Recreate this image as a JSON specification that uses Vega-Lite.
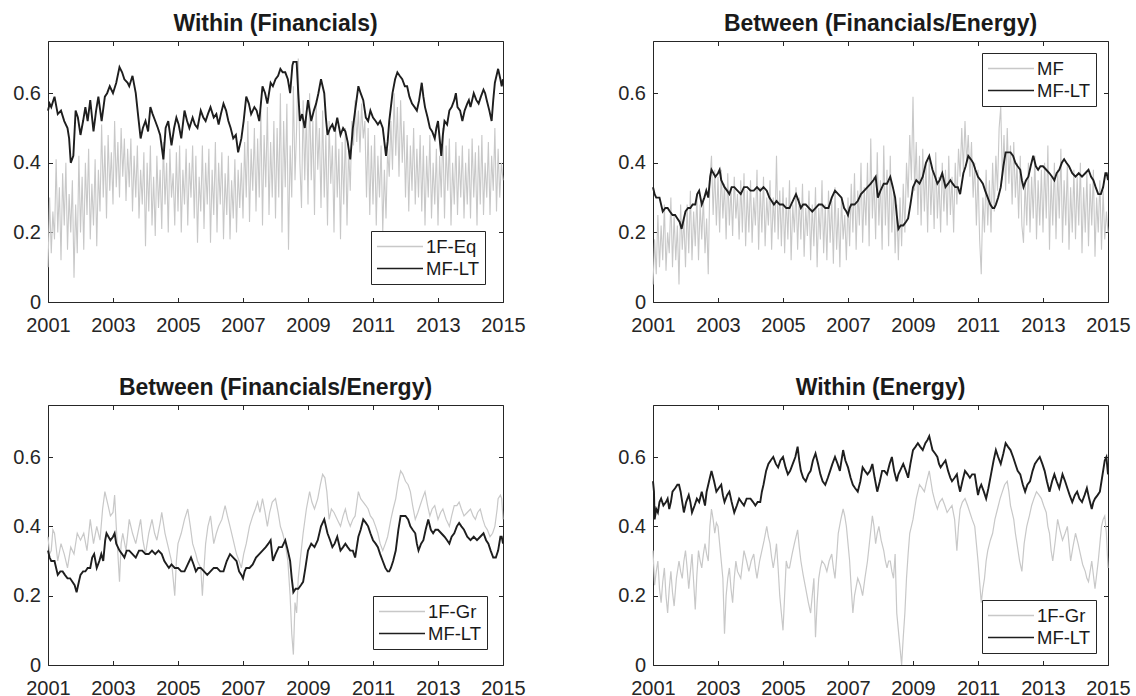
{
"$schema":"https://vega.github.io/schema/vega-lite/v6.json",
"background":"white",
"padding":{"left":12,"top":12,"right":5,"bottom":5},
"config":{
 "font":"Liberation Sans",
 "view":{"stroke":"#262626","strokeWidth":1},
 "axis":{"grid":false,"domain":false,"tickColor":"#262626","tickSize":-4.5,"labelColor":"#262626","labelFontSize":20,"labelFont":"Liberation Sans","labelFlush":false,"labelOverlap":false},
 "axisX":{"labelPadding":18},
 "axisY":{"labelPadding":12},
 "title":{"fontSize":23,"fontWeight":"bold","font":"Liberation Sans","color":"#1a1a1a","anchor":"middle","frame":"group","baseline":"alphabetic","offset":5},
 "legend":{"symbolType":"stroke","symbolSize":2116,"symbolStrokeWidth":1.5,"clipHeight":21,"rowPadding":1,"labelOffset":2,"labelFontSize":18.5,"labelFont":"Liberation Sans","labelColor":"#1a1a1a","padding":5,"strokeColor":"#262626","fillColor":"white","cornerRadius":0,"labelLimit":200}
},
"datasets":{
"p1g":[{"t":2001.0,"v":0.10},{"t":2001.05,"v":0.30},{"t":2001.1,"v":0.14},{"t":2001.15,"v":0.26},{"t":2001.2,"v":0.18},{"t":2001.25,"v":0.41},{"t":2001.3,"v":0.20},{"t":2001.35,"v":0.33},{"t":2001.4,"v":0.12},{"t":2001.45,"v":0.37},{"t":2001.5,"v":0.22},{"t":2001.55,"v":0.40},{"t":2001.6,"v":0.15},{"t":2001.65,"v":0.31},{"t":2001.7,"v":0.20},{"t":2001.75,"v":0.35},{"t":2001.8,"v":0.07},{"t":2001.85,"v":0.28},{"t":2001.9,"v":0.14},{"t":2001.95,"v":0.42},{"t":2002.0,"v":0.20},{"t":2002.05,"v":0.36},{"t":2002.1,"v":0.15},{"t":2002.15,"v":0.40},{"t":2002.2,"v":0.25},{"t":2002.25,"v":0.44},{"t":2002.3,"v":0.18},{"t":2002.35,"v":0.34},{"t":2002.4,"v":0.22},{"t":2002.45,"v":0.41},{"t":2002.5,"v":0.16},{"t":2002.55,"v":0.38},{"t":2002.6,"v":0.26},{"t":2002.65,"v":0.51},{"t":2002.7,"v":0.30},{"t":2002.75,"v":0.45},{"t":2002.8,"v":0.24},{"t":2002.85,"v":0.48},{"t":2002.9,"v":0.32},{"t":2002.95,"v":0.43},{"t":2003.0,"v":0.28},{"t":2003.05,"v":0.52},{"t":2003.1,"v":0.33},{"t":2003.15,"v":0.46},{"t":2003.2,"v":0.30},{"t":2003.25,"v":0.50},{"t":2003.3,"v":0.36},{"t":2003.35,"v":0.47},{"t":2003.4,"v":0.29},{"t":2003.45,"v":0.44},{"t":2003.5,"v":0.33},{"t":2003.55,"v":0.47},{"t":2003.6,"v":0.26},{"t":2003.65,"v":0.42},{"t":2003.7,"v":0.30},{"t":2003.75,"v":0.45},{"t":2003.8,"v":0.24},{"t":2003.85,"v":0.38},{"t":2003.9,"v":0.28},{"t":2003.95,"v":0.43},{"t":2004.0,"v":0.16},{"t":2004.05,"v":0.40},{"t":2004.1,"v":0.26},{"t":2004.15,"v":0.45},{"t":2004.2,"v":0.22},{"t":2004.25,"v":0.36},{"t":2004.3,"v":0.19},{"t":2004.35,"v":0.42},{"t":2004.4,"v":0.27},{"t":2004.45,"v":0.38},{"t":2004.5,"v":0.21},{"t":2004.55,"v":0.46},{"t":2004.6,"v":0.28},{"t":2004.65,"v":0.40},{"t":2004.7,"v":0.20},{"t":2004.75,"v":0.44},{"t":2004.8,"v":0.30},{"t":2004.85,"v":0.37},{"t":2004.9,"v":0.22},{"t":2004.95,"v":0.43},{"t":2005.0,"v":0.26},{"t":2005.05,"v":0.45},{"t":2005.1,"v":0.20},{"t":2005.15,"v":0.38},{"t":2005.2,"v":0.28},{"t":2005.25,"v":0.44},{"t":2005.3,"v":0.22},{"t":2005.35,"v":0.40},{"t":2005.4,"v":0.30},{"t":2005.45,"v":0.45},{"t":2005.5,"v":0.24},{"t":2005.55,"v":0.42},{"t":2005.6,"v":0.17},{"t":2005.65,"v":0.36},{"t":2005.7,"v":0.26},{"t":2005.75,"v":0.45},{"t":2005.8,"v":0.21},{"t":2005.85,"v":0.40},{"t":2005.9,"v":0.28},{"t":2005.95,"v":0.44},{"t":2006.0,"v":0.17},{"t":2006.05,"v":0.38},{"t":2006.1,"v":0.25},{"t":2006.15,"v":0.46},{"t":2006.2,"v":0.20},{"t":2006.25,"v":0.40},{"t":2006.3,"v":0.28},{"t":2006.35,"v":0.43},{"t":2006.4,"v":0.18},{"t":2006.45,"v":0.37},{"t":2006.5,"v":0.25},{"t":2006.55,"v":0.42},{"t":2006.6,"v":0.18},{"t":2006.65,"v":0.35},{"t":2006.7,"v":0.24},{"t":2006.75,"v":0.41},{"t":2006.8,"v":0.20},{"t":2006.85,"v":0.38},{"t":2006.9,"v":0.27},{"t":2006.95,"v":0.40},{"t":2007.0,"v":0.24},{"t":2007.05,"v":0.46},{"t":2007.1,"v":0.30},{"t":2007.15,"v":0.52},{"t":2007.2,"v":0.23},{"t":2007.25,"v":0.44},{"t":2007.3,"v":0.32},{"t":2007.35,"v":0.50},{"t":2007.4,"v":0.26},{"t":2007.45,"v":0.47},{"t":2007.5,"v":0.30},{"t":2007.55,"v":0.55},{"t":2007.6,"v":0.22},{"t":2007.65,"v":0.48},{"t":2007.7,"v":0.33},{"t":2007.75,"v":0.56},{"t":2007.8,"v":0.25},{"t":2007.85,"v":0.46},{"t":2007.9,"v":0.30},{"t":2007.95,"v":0.52},{"t":2008.0,"v":0.24},{"t":2008.05,"v":0.50},{"t":2008.1,"v":0.30},{"t":2008.15,"v":0.60},{"t":2008.2,"v":0.20},{"t":2008.25,"v":0.52},{"t":2008.3,"v":0.33},{"t":2008.35,"v":0.57},{"t":2008.4,"v":0.15},{"t":2008.45,"v":0.45},{"t":2008.5,"v":0.30},{"t":2008.55,"v":0.62},{"t":2008.6,"v":0.35},{"t":2008.65,"v":0.50},{"t":2008.7,"v":0.70},{"t":2008.75,"v":0.40},{"t":2008.8,"v":0.27},{"t":2008.85,"v":0.58},{"t":2008.9,"v":0.35},{"t":2008.95,"v":0.55},{"t":2009.0,"v":0.28},{"t":2009.05,"v":0.60},{"t":2009.1,"v":0.35},{"t":2009.15,"v":0.52},{"t":2009.2,"v":0.25},{"t":2009.25,"v":0.58},{"t":2009.3,"v":0.38},{"t":2009.35,"v":0.50},{"t":2009.4,"v":0.27},{"t":2009.45,"v":0.55},{"t":2009.5,"v":0.30},{"t":2009.55,"v":0.48},{"t":2009.6,"v":0.22},{"t":2009.65,"v":0.52},{"t":2009.7,"v":0.34},{"t":2009.75,"v":0.45},{"t":2009.8,"v":0.20},{"t":2009.85,"v":0.50},{"t":2009.9,"v":0.30},{"t":2009.95,"v":0.44},{"t":2010.0,"v":0.18},{"t":2010.05,"v":0.46},{"t":2010.1,"v":0.28},{"t":2010.15,"v":0.50},{"t":2010.2,"v":0.22},{"t":2010.25,"v":0.44},{"t":2010.3,"v":0.32},{"t":2010.35,"v":0.52},{"t":2010.4,"v":0.45},{"t":2010.45,"v":0.58},{"t":2010.5,"v":0.46},{"t":2010.55,"v":0.55},{"t":2010.6,"v":0.43},{"t":2010.65,"v":0.57},{"t":2010.7,"v":0.47},{"t":2010.75,"v":0.52},{"t":2010.8,"v":0.30},{"t":2010.85,"v":0.50},{"t":2010.9,"v":0.25},{"t":2010.95,"v":0.45},{"t":2011.0,"v":0.28},{"t":2011.05,"v":0.48},{"t":2011.1,"v":0.22},{"t":2011.15,"v":0.42},{"t":2011.2,"v":0.30},{"t":2011.25,"v":0.45},{"t":2011.3,"v":0.20},{"t":2011.35,"v":0.38},{"t":2011.4,"v":0.24},{"t":2011.45,"v":0.44},{"t":2011.5,"v":0.36},{"t":2011.55,"v":0.52},{"t":2011.6,"v":0.38},{"t":2011.65,"v":0.60},{"t":2011.7,"v":0.42},{"t":2011.75,"v":0.56},{"t":2011.8,"v":0.36},{"t":2011.85,"v":0.58},{"t":2011.9,"v":0.40},{"t":2011.95,"v":0.52},{"t":2012.0,"v":0.30},{"t":2012.05,"v":0.48},{"t":2012.1,"v":0.26},{"t":2012.15,"v":0.45},{"t":2012.2,"v":0.32},{"t":2012.25,"v":0.50},{"t":2012.3,"v":0.28},{"t":2012.35,"v":0.44},{"t":2012.4,"v":0.30},{"t":2012.45,"v":0.48},{"t":2012.5,"v":0.26},{"t":2012.55,"v":0.45},{"t":2012.6,"v":0.22},{"t":2012.65,"v":0.42},{"t":2012.7,"v":0.30},{"t":2012.75,"v":0.48},{"t":2012.8,"v":0.24},{"t":2012.85,"v":0.40},{"t":2012.9,"v":0.28},{"t":2012.95,"v":0.44},{"t":2013.0,"v":0.22},{"t":2013.05,"v":0.42},{"t":2013.1,"v":0.30},{"t":2013.15,"v":0.50},{"t":2013.2,"v":0.24},{"t":2013.25,"v":0.45},{"t":2013.3,"v":0.32},{"t":2013.35,"v":0.47},{"t":2013.4,"v":0.22},{"t":2013.45,"v":0.40},{"t":2013.5,"v":0.28},{"t":2013.55,"v":0.46},{"t":2013.6,"v":0.25},{"t":2013.65,"v":0.42},{"t":2013.7,"v":0.30},{"t":2013.75,"v":0.45},{"t":2013.8,"v":0.24},{"t":2013.85,"v":0.40},{"t":2013.9,"v":0.28},{"t":2013.95,"v":0.44},{"t":2014.0,"v":0.24},{"t":2014.05,"v":0.47},{"t":2014.1,"v":0.30},{"t":2014.15,"v":0.43},{"t":2014.2,"v":0.22},{"t":2014.25,"v":0.45},{"t":2014.3,"v":0.28},{"t":2014.35,"v":0.48},{"t":2014.4,"v":0.25},{"t":2014.45,"v":0.40},{"t":2014.5,"v":0.30},{"t":2014.55,"v":0.46},{"t":2014.6,"v":0.25},{"t":2014.65,"v":0.42},{"t":2014.7,"v":0.32},{"t":2014.75,"v":0.50},{"t":2014.8,"v":0.26},{"t":2014.85,"v":0.44},{"t":2014.9,"v":0.30},{"t":2014.95,"v":0.40},{"t":2015.0,"v":0.35}],
"p1k":[{"t":2001.0,"v":0.55},{"t":2001.05,"v":0.57},{"t":2001.1,"v":0.56},{"t":2001.2,"v":0.59},{"t":2001.3,"v":0.54},{"t":2001.4,"v":0.55},{"t":2001.5,"v":0.52},{"t":2001.6,"v":0.50},{"t":2001.65,"v":0.47},{"t":2001.7,"v":0.40},{"t":2001.78,"v":0.42},{"t":2001.85,"v":0.55},{"t":2001.92,"v":0.53},{"t":2002.0,"v":0.48},{"t":2002.08,"v":0.52},{"t":2002.15,"v":0.56},{"t":2002.22,"v":0.52},{"t":2002.3,"v":0.58},{"t":2002.4,"v":0.49},{"t":2002.48,"v":0.55},{"t":2002.55,"v":0.59},{"t":2002.65,"v":0.52},{"t":2002.75,"v":0.59},{"t":2002.82,"v":0.60},{"t":2002.9,"v":0.62},{"t":2003.0,"v":0.60},{"t":2003.1,"v":0.63},{"t":2003.2,"v":0.675},{"t":2003.28,"v":0.66},{"t":2003.35,"v":0.64},{"t":2003.45,"v":0.63},{"t":2003.5,"v":0.62},{"t":2003.6,"v":0.65},{"t":2003.7,"v":0.60},{"t":2003.78,"v":0.53},{"t":2003.85,"v":0.47},{"t":2003.92,"v":0.50},{"t":2004.0,"v":0.52},{"t":2004.08,"v":0.49},{"t":2004.15,"v":0.56},{"t":2004.22,"v":0.54},{"t":2004.3,"v":0.52},{"t":2004.38,"v":0.50},{"t":2004.45,"v":0.48},{"t":2004.55,"v":0.41},{"t":2004.62,"v":0.50},{"t":2004.7,"v":0.52},{"t":2004.8,"v":0.45},{"t":2004.88,"v":0.50},{"t":2004.95,"v":0.53},{"t":2005.02,"v":0.51},{"t":2005.1,"v":0.47},{"t":2005.2,"v":0.55},{"t":2005.28,"v":0.52},{"t":2005.35,"v":0.50},{"t":2005.45,"v":0.53},{"t":2005.52,"v":0.51},{"t":2005.6,"v":0.50},{"t":2005.7,"v":0.55},{"t":2005.78,"v":0.53},{"t":2005.85,"v":0.52},{"t":2005.92,"v":0.54},{"t":2006.0,"v":0.56},{"t":2006.1,"v":0.53},{"t":2006.18,"v":0.54},{"t":2006.25,"v":0.51},{"t":2006.32,"v":0.54},{"t":2006.4,"v":0.57},{"t":2006.48,"v":0.55},{"t":2006.55,"v":0.52},{"t":2006.62,"v":0.50},{"t":2006.7,"v":0.47},{"t":2006.78,"v":0.48},{"t":2006.85,"v":0.43},{"t":2006.95,"v":0.47},{"t":2007.02,"v":0.52},{"t":2007.1,"v":0.59},{"t":2007.18,"v":0.57},{"t":2007.25,"v":0.54},{"t":2007.35,"v":0.56},{"t":2007.42,"v":0.55},{"t":2007.5,"v":0.52},{"t":2007.6,"v":0.62},{"t":2007.68,"v":0.60},{"t":2007.75,"v":0.57},{"t":2007.85,"v":0.63},{"t":2007.92,"v":0.62},{"t":2008.0,"v":0.64},{"t":2008.08,"v":0.65},{"t":2008.15,"v":0.67},{"t":2008.22,"v":0.66},{"t":2008.3,"v":0.66},{"t":2008.38,"v":0.64},{"t":2008.45,"v":0.60},{"t":2008.52,"v":0.68},{"t":2008.55,"v":0.69},{"t":2008.65,"v":0.69},{"t":2008.7,"v":0.60},{"t":2008.75,"v":0.52},{"t":2008.82,"v":0.54},{"t":2008.9,"v":0.50},{"t":2009.0,"v":0.58},{"t":2009.05,"v":0.55},{"t":2009.1,"v":0.52},{"t":2009.18,"v":0.55},{"t":2009.25,"v":0.57},{"t":2009.32,"v":0.60},{"t":2009.4,"v":0.64},{"t":2009.45,"v":0.62},{"t":2009.5,"v":0.60},{"t":2009.55,"v":0.53},{"t":2009.6,"v":0.48},{"t":2009.68,"v":0.50},{"t":2009.75,"v":0.51},{"t":2009.82,"v":0.49},{"t":2009.9,"v":0.53},{"t":2010.0,"v":0.48},{"t":2010.08,"v":0.50},{"t":2010.15,"v":0.49},{"t":2010.22,"v":0.46},{"t":2010.3,"v":0.41},{"t":2010.38,"v":0.50},{"t":2010.45,"v":0.55},{"t":2010.55,"v":0.62},{"t":2010.62,"v":0.60},{"t":2010.7,"v":0.58},{"t":2010.78,"v":0.53},{"t":2010.85,"v":0.52},{"t":2010.92,"v":0.55},{"t":2011.0,"v":0.53},{"t":2011.08,"v":0.52},{"t":2011.15,"v":0.51},{"t":2011.22,"v":0.52},{"t":2011.3,"v":0.50},{"t":2011.35,"v":0.46},{"t":2011.4,"v":0.42},{"t":2011.45,"v":0.46},{"t":2011.5,"v":0.52},{"t":2011.55,"v":0.56},{"t":2011.6,"v":0.60},{"t":2011.68,"v":0.64},{"t":2011.75,"v":0.66},{"t":2011.82,"v":0.65},{"t":2011.9,"v":0.64},{"t":2011.98,"v":0.62},{"t":2012.05,"v":0.62},{"t":2012.12,"v":0.59},{"t":2012.2,"v":0.57},{"t":2012.28,"v":0.56},{"t":2012.35,"v":0.55},{"t":2012.42,"v":0.58},{"t":2012.5,"v":0.63},{"t":2012.55,"v":0.59},{"t":2012.6,"v":0.56},{"t":2012.68,"v":0.53},{"t":2012.75,"v":0.50},{"t":2012.82,"v":0.49},{"t":2012.9,"v":0.47},{"t":2012.95,"v":0.50},{"t":2013.0,"v":0.52},{"t":2013.05,"v":0.47},{"t":2013.1,"v":0.42},{"t":2013.15,"v":0.48},{"t":2013.2,"v":0.52},{"t":2013.28,"v":0.51},{"t":2013.35,"v":0.55},{"t":2013.42,"v":0.56},{"t":2013.5,"v":0.58},{"t":2013.55,"v":0.60},{"t":2013.6,"v":0.56},{"t":2013.68,"v":0.55},{"t":2013.75,"v":0.52},{"t":2013.82,"v":0.55},{"t":2013.9,"v":0.57},{"t":2013.95,"v":0.58},{"t":2014.0,"v":0.56},{"t":2014.05,"v":0.58},{"t":2014.1,"v":0.60},{"t":2014.18,"v":0.58},{"t":2014.25,"v":0.57},{"t":2014.32,"v":0.59},{"t":2014.4,"v":0.61},{"t":2014.45,"v":0.60},{"t":2014.5,"v":0.58},{"t":2014.58,"v":0.55},{"t":2014.65,"v":0.52},{"t":2014.7,"v":0.58},{"t":2014.75,"v":0.63},{"t":2014.8,"v":0.65},{"t":2014.85,"v":0.67},{"t":2014.92,"v":0.64},{"t":2014.96,"v":0.62},{"t":2015.0,"v":0.64}],
"p2g":[{"t":2001.0,"v":0.05},{"t":2001.05,"v":0.18},{"t":2001.1,"v":0.08},{"t":2001.15,"v":0.25},{"t":2001.2,"v":0.10},{"t":2001.25,"v":0.22},{"t":2001.3,"v":0.12},{"t":2001.35,"v":0.28},{"t":2001.4,"v":0.09},{"t":2001.45,"v":0.20},{"t":2001.5,"v":0.14},{"t":2001.55,"v":0.30},{"t":2001.6,"v":0.10},{"t":2001.65,"v":0.25},{"t":2001.7,"v":0.12},{"t":2001.75,"v":0.22},{"t":2001.8,"v":0.05},{"t":2001.85,"v":0.28},{"t":2001.9,"v":0.15},{"t":2001.95,"v":0.24},{"t":2002.0,"v":0.10},{"t":2002.05,"v":0.28},{"t":2002.1,"v":0.14},{"t":2002.15,"v":0.32},{"t":2002.2,"v":0.12},{"t":2002.25,"v":0.26},{"t":2002.3,"v":0.16},{"t":2002.35,"v":0.31},{"t":2002.4,"v":0.12},{"t":2002.45,"v":0.28},{"t":2002.5,"v":0.18},{"t":2002.55,"v":0.30},{"t":2002.6,"v":0.14},{"t":2002.65,"v":0.24},{"t":2002.7,"v":0.08},{"t":2002.75,"v":0.35},{"t":2002.8,"v":0.42},{"t":2002.85,"v":0.25},{"t":2002.9,"v":0.38},{"t":2002.95,"v":0.22},{"t":2003.0,"v":0.36},{"t":2003.05,"v":0.20},{"t":2003.1,"v":0.38},{"t":2003.15,"v":0.24},{"t":2003.2,"v":0.34},{"t":2003.25,"v":0.18},{"t":2003.3,"v":0.37},{"t":2003.35,"v":0.22},{"t":2003.4,"v":0.33},{"t":2003.45,"v":0.19},{"t":2003.5,"v":0.36},{"t":2003.55,"v":0.24},{"t":2003.6,"v":0.31},{"t":2003.65,"v":0.18},{"t":2003.7,"v":0.35},{"t":2003.75,"v":0.20},{"t":2003.8,"v":0.37},{"t":2003.85,"v":0.16},{"t":2003.9,"v":0.32},{"t":2003.95,"v":0.20},{"t":2004.0,"v":0.35},{"t":2004.05,"v":0.17},{"t":2004.1,"v":0.30},{"t":2004.15,"v":0.22},{"t":2004.2,"v":0.38},{"t":2004.25,"v":0.15},{"t":2004.3,"v":0.33},{"t":2004.35,"v":0.20},{"t":2004.4,"v":0.36},{"t":2004.45,"v":0.16},{"t":2004.5,"v":0.30},{"t":2004.55,"v":0.22},{"t":2004.6,"v":0.35},{"t":2004.65,"v":0.15},{"t":2004.7,"v":0.30},{"t":2004.75,"v":0.20},{"t":2004.8,"v":0.42},{"t":2004.85,"v":0.18},{"t":2004.9,"v":0.32},{"t":2004.95,"v":0.16},{"t":2005.0,"v":0.33},{"t":2005.05,"v":0.14},{"t":2005.1,"v":0.30},{"t":2005.15,"v":0.18},{"t":2005.2,"v":0.35},{"t":2005.25,"v":0.12},{"t":2005.3,"v":0.28},{"t":2005.35,"v":0.20},{"t":2005.4,"v":0.33},{"t":2005.45,"v":0.15},{"t":2005.5,"v":0.30},{"t":2005.55,"v":0.18},{"t":2005.6,"v":0.34},{"t":2005.65,"v":0.13},{"t":2005.7,"v":0.27},{"t":2005.75,"v":0.19},{"t":2005.8,"v":0.32},{"t":2005.85,"v":0.12},{"t":2005.9,"v":0.28},{"t":2005.95,"v":0.16},{"t":2006.0,"v":0.33},{"t":2006.05,"v":0.10},{"t":2006.1,"v":0.27},{"t":2006.15,"v":0.18},{"t":2006.2,"v":0.35},{"t":2006.25,"v":0.14},{"t":2006.3,"v":0.28},{"t":2006.35,"v":0.12},{"t":2006.4,"v":0.32},{"t":2006.45,"v":0.17},{"t":2006.5,"v":0.29},{"t":2006.55,"v":0.11},{"t":2006.6,"v":0.33},{"t":2006.65,"v":0.15},{"t":2006.7,"v":0.27},{"t":2006.75,"v":0.10},{"t":2006.8,"v":0.30},{"t":2006.85,"v":0.18},{"t":2006.9,"v":0.25},{"t":2006.95,"v":0.12},{"t":2007.0,"v":0.30},{"t":2007.05,"v":0.16},{"t":2007.1,"v":0.34},{"t":2007.15,"v":0.20},{"t":2007.2,"v":0.37},{"t":2007.25,"v":0.15},{"t":2007.3,"v":0.32},{"t":2007.35,"v":0.22},{"t":2007.4,"v":0.40},{"t":2007.45,"v":0.17},{"t":2007.5,"v":0.33},{"t":2007.55,"v":0.22},{"t":2007.6,"v":0.40},{"t":2007.65,"v":0.16},{"t":2007.7,"v":0.47},{"t":2007.75,"v":0.24},{"t":2007.8,"v":0.36},{"t":2007.85,"v":0.18},{"t":2007.9,"v":0.43},{"t":2007.95,"v":0.22},{"t":2008.0,"v":0.35},{"t":2008.05,"v":0.15},{"t":2008.1,"v":0.45},{"t":2008.15,"v":0.22},{"t":2008.2,"v":0.38},{"t":2008.25,"v":0.16},{"t":2008.3,"v":0.42},{"t":2008.35,"v":0.20},{"t":2008.4,"v":0.32},{"t":2008.45,"v":0.14},{"t":2008.5,"v":0.28},{"t":2008.55,"v":0.12},{"t":2008.6,"v":0.30},{"t":2008.65,"v":0.16},{"t":2008.7,"v":0.34},{"t":2008.75,"v":0.20},{"t":2008.8,"v":0.40},{"t":2008.85,"v":0.30},{"t":2008.9,"v":0.48},{"t":2008.95,"v":0.35},{"t":2009.0,"v":0.59},{"t":2009.05,"v":0.32},{"t":2009.1,"v":0.46},{"t":2009.15,"v":0.25},{"t":2009.2,"v":0.42},{"t":2009.25,"v":0.22},{"t":2009.3,"v":0.44},{"t":2009.35,"v":0.26},{"t":2009.4,"v":0.40},{"t":2009.45,"v":0.20},{"t":2009.5,"v":0.42},{"t":2009.55,"v":0.25},{"t":2009.6,"v":0.38},{"t":2009.65,"v":0.21},{"t":2009.7,"v":0.43},{"t":2009.75,"v":0.24},{"t":2009.8,"v":0.36},{"t":2009.85,"v":0.20},{"t":2009.9,"v":0.40},{"t":2009.95,"v":0.26},{"t":2010.0,"v":0.38},{"t":2010.05,"v":0.22},{"t":2010.1,"v":0.42},{"t":2010.15,"v":0.25},{"t":2010.2,"v":0.36},{"t":2010.25,"v":0.20},{"t":2010.3,"v":0.40},{"t":2010.35,"v":0.28},{"t":2010.4,"v":0.44},{"t":2010.45,"v":0.36},{"t":2010.5,"v":0.50},{"t":2010.55,"v":0.38},{"t":2010.6,"v":0.52},{"t":2010.65,"v":0.40},{"t":2010.7,"v":0.48},{"t":2010.75,"v":0.36},{"t":2010.8,"v":0.46},{"t":2010.85,"v":0.30},{"t":2010.9,"v":0.40},{"t":2010.95,"v":0.22},{"t":2011.0,"v":0.38},{"t":2011.05,"v":0.18},{"t":2011.1,"v":0.08},{"t":2011.15,"v":0.30},{"t":2011.2,"v":0.20},{"t":2011.25,"v":0.38},{"t":2011.3,"v":0.22},{"t":2011.35,"v":0.35},{"t":2011.4,"v":0.20},{"t":2011.45,"v":0.40},{"t":2011.5,"v":0.26},{"t":2011.55,"v":0.42},{"t":2011.6,"v":0.32},{"t":2011.65,"v":0.50},{"t":2011.7,"v":0.56},{"t":2011.75,"v":0.35},{"t":2011.8,"v":0.48},{"t":2011.85,"v":0.32},{"t":2011.9,"v":0.50},{"t":2011.95,"v":0.34},{"t":2012.0,"v":0.45},{"t":2012.05,"v":0.28},{"t":2012.1,"v":0.46},{"t":2012.15,"v":0.30},{"t":2012.2,"v":0.40},{"t":2012.25,"v":0.24},{"t":2012.3,"v":0.42},{"t":2012.35,"v":0.22},{"t":2012.4,"v":0.17},{"t":2012.45,"v":0.35},{"t":2012.5,"v":0.22},{"t":2012.55,"v":0.40},{"t":2012.6,"v":0.20},{"t":2012.65,"v":0.36},{"t":2012.7,"v":0.24},{"t":2012.75,"v":0.42},{"t":2012.8,"v":0.18},{"t":2012.85,"v":0.35},{"t":2012.9,"v":0.22},{"t":2012.95,"v":0.38},{"t":2013.0,"v":0.20},{"t":2013.05,"v":0.40},{"t":2013.1,"v":0.24},{"t":2013.15,"v":0.45},{"t":2013.2,"v":0.15},{"t":2013.25,"v":0.36},{"t":2013.3,"v":0.22},{"t":2013.35,"v":0.40},{"t":2013.4,"v":0.18},{"t":2013.45,"v":0.38},{"t":2013.5,"v":0.24},{"t":2013.55,"v":0.44},{"t":2013.6,"v":0.17},{"t":2013.65,"v":0.35},{"t":2013.7,"v":0.22},{"t":2013.75,"v":0.40},{"t":2013.8,"v":0.15},{"t":2013.85,"v":0.33},{"t":2013.9,"v":0.20},{"t":2013.95,"v":0.38},{"t":2014.0,"v":0.18},{"t":2014.05,"v":0.36},{"t":2014.1,"v":0.22},{"t":2014.15,"v":0.40},{"t":2014.2,"v":0.14},{"t":2014.25,"v":0.33},{"t":2014.3,"v":0.20},{"t":2014.35,"v":0.37},{"t":2014.4,"v":0.16},{"t":2014.45,"v":0.34},{"t":2014.5,"v":0.22},{"t":2014.55,"v":0.38},{"t":2014.6,"v":0.13},{"t":2014.65,"v":0.30},{"t":2014.7,"v":0.20},{"t":2014.75,"v":0.35},{"t":2014.8,"v":0.15},{"t":2014.85,"v":0.32},{"t":2014.9,"v":0.18},{"t":2014.95,"v":0.26},{"t":2015.0,"v":0.20}],
"fek":[{"t":2001.0,"v":0.33},{"t":2001.05,"v":0.31},{"t":2001.1,"v":0.30},{"t":2001.2,"v":0.30},{"t":2001.3,"v":0.26},{"t":2001.38,"v":0.27},{"t":2001.45,"v":0.27},{"t":2001.52,"v":0.26},{"t":2001.6,"v":0.25},{"t":2001.68,"v":0.25},{"t":2001.75,"v":0.24},{"t":2001.82,"v":0.23},{"t":2001.88,"v":0.21},{"t":2001.95,"v":0.24},{"t":2002.0,"v":0.26},{"t":2002.08,"v":0.27},{"t":2002.15,"v":0.27},{"t":2002.22,"v":0.28},{"t":2002.3,"v":0.28},{"t":2002.36,"v":0.31},{"t":2002.42,"v":0.32},{"t":2002.5,"v":0.28},{"t":2002.58,"v":0.30},{"t":2002.64,"v":0.32},{"t":2002.7,"v":0.30},{"t":2002.76,"v":0.36},{"t":2002.8,"v":0.38},{"t":2002.86,"v":0.37},{"t":2002.92,"v":0.36},{"t":2003.0,"v":0.37},{"t":2003.05,"v":0.38},{"t":2003.1,"v":0.35},{"t":2003.2,"v":0.33},{"t":2003.28,"v":0.32},{"t":2003.35,"v":0.31},{"t":2003.42,"v":0.33},{"t":2003.5,"v":0.33},{"t":2003.6,"v":0.32},{"t":2003.7,"v":0.31},{"t":2003.8,"v":0.33},{"t":2003.9,"v":0.33},{"t":2004.0,"v":0.32},{"t":2004.1,"v":0.32},{"t":2004.2,"v":0.33},{"t":2004.3,"v":0.32},{"t":2004.4,"v":0.33},{"t":2004.5,"v":0.32},{"t":2004.58,"v":0.30},{"t":2004.65,"v":0.29},{"t":2004.72,"v":0.28},{"t":2004.8,"v":0.29},{"t":2004.9,"v":0.28},{"t":2005.0,"v":0.28},{"t":2005.1,"v":0.27},{"t":2005.2,"v":0.27},{"t":2005.3,"v":0.29},{"t":2005.4,"v":0.31},{"t":2005.48,"v":0.29},{"t":2005.55,"v":0.27},{"t":2005.62,"v":0.28},{"t":2005.7,"v":0.28},{"t":2005.8,"v":0.27},{"t":2005.9,"v":0.26},{"t":2006.0,"v":0.27},{"t":2006.1,"v":0.28},{"t":2006.2,"v":0.28},{"t":2006.3,"v":0.27},{"t":2006.4,"v":0.27},{"t":2006.5,"v":0.30},{"t":2006.6,"v":0.32},{"t":2006.7,"v":0.31},{"t":2006.8,"v":0.30},{"t":2006.88,"v":0.27},{"t":2006.95,"v":0.26},{"t":2007.0,"v":0.25},{"t":2007.05,"v":0.27},{"t":2007.1,"v":0.28},{"t":2007.2,"v":0.28},{"t":2007.3,"v":0.29},{"t":2007.4,"v":0.31},{"t":2007.5,"v":0.32},{"t":2007.6,"v":0.33},{"t":2007.7,"v":0.34},{"t":2007.78,"v":0.35},{"t":2007.85,"v":0.36},{"t":2007.92,"v":0.30},{"t":2008.0,"v":0.32},{"t":2008.1,"v":0.34},{"t":2008.2,"v":0.34},{"t":2008.3,"v":0.36},{"t":2008.38,"v":0.33},{"t":2008.45,"v":0.30},{"t":2008.5,"v":0.25},{"t":2008.55,"v":0.21},{"t":2008.62,"v":0.22},{"t":2008.7,"v":0.22},{"t":2008.78,"v":0.23},{"t":2008.85,"v":0.24},{"t":2008.92,"v":0.28},{"t":2009.0,"v":0.33},{"t":2009.1,"v":0.35},{"t":2009.2,"v":0.34},{"t":2009.3,"v":0.36},{"t":2009.4,"v":0.40},{"t":2009.5,"v":0.42},{"t":2009.55,"v":0.40},{"t":2009.6,"v":0.38},{"t":2009.68,"v":0.36},{"t":2009.75,"v":0.34},{"t":2009.82,"v":0.35},{"t":2009.9,"v":0.37},{"t":2009.95,"v":0.35},{"t":2010.0,"v":0.33},{"t":2010.08,"v":0.34},{"t":2010.15,"v":0.35},{"t":2010.22,"v":0.34},{"t":2010.3,"v":0.33},{"t":2010.38,"v":0.33},{"t":2010.45,"v":0.31},{"t":2010.5,"v":0.34},{"t":2010.55,"v":0.37},{"t":2010.62,"v":0.39},{"t":2010.7,"v":0.42},{"t":2010.78,"v":0.41},{"t":2010.85,"v":0.40},{"t":2010.92,"v":0.38},{"t":2011.0,"v":0.36},{"t":2011.08,"v":0.35},{"t":2011.15,"v":0.34},{"t":2011.22,"v":0.32},{"t":2011.3,"v":0.30},{"t":2011.38,"v":0.28},{"t":2011.45,"v":0.27},{"t":2011.5,"v":0.27},{"t":2011.55,"v":0.28},{"t":2011.62,"v":0.30},{"t":2011.7,"v":0.33},{"t":2011.78,"v":0.39},{"t":2011.85,"v":0.43},{"t":2011.92,"v":0.43},{"t":2012.0,"v":0.43},{"t":2012.08,"v":0.42},{"t":2012.15,"v":0.40},{"t":2012.22,"v":0.39},{"t":2012.3,"v":0.38},{"t":2012.35,"v":0.35},{"t":2012.4,"v":0.33},{"t":2012.48,"v":0.35},{"t":2012.55,"v":0.36},{"t":2012.62,"v":0.39},{"t":2012.7,"v":0.42},{"t":2012.78,"v":0.39},{"t":2012.85,"v":0.38},{"t":2012.92,"v":0.39},{"t":2013.0,"v":0.39},{"t":2013.1,"v":0.38},{"t":2013.2,"v":0.37},{"t":2013.28,"v":0.36},{"t":2013.35,"v":0.35},{"t":2013.42,"v":0.37},{"t":2013.5,"v":0.38},{"t":2013.58,"v":0.40},{"t":2013.65,"v":0.41},{"t":2013.72,"v":0.40},{"t":2013.8,"v":0.39},{"t":2013.9,"v":0.37},{"t":2014.0,"v":0.36},{"t":2014.1,"v":0.37},{"t":2014.2,"v":0.36},{"t":2014.3,"v":0.37},{"t":2014.4,"v":0.38},{"t":2014.48,"v":0.36},{"t":2014.55,"v":0.35},{"t":2014.62,"v":0.33},{"t":2014.7,"v":0.31},{"t":2014.78,"v":0.31},{"t":2014.85,"v":0.33},{"t":2014.92,"v":0.37},{"t":2014.96,"v":0.37},{"t":2015.0,"v":0.35}],
"p3g":[{"t":2001.0,"v":0.37},{"t":2001.05,"v":0.32},{"t":2001.1,"v":0.33},{"t":2001.15,"v":0.39},{"t":2001.2,"v":0.38},{"t":2001.3,"v":0.30},{"t":2001.4,"v":0.35},{"t":2001.5,"v":0.32},{"t":2001.6,"v":0.28},{"t":2001.7,"v":0.34},{"t":2001.8,"v":0.32},{"t":2001.9,"v":0.38},{"t":2002.0,"v":0.36},{"t":2002.1,"v":0.38},{"t":2002.2,"v":0.33},{"t":2002.3,"v":0.42},{"t":2002.4,"v":0.35},{"t":2002.5,"v":0.40},{"t":2002.6,"v":0.36},{"t":2002.68,"v":0.45},{"t":2002.75,"v":0.50},{"t":2002.85,"v":0.46},{"t":2002.92,"v":0.43},{"t":2003.0,"v":0.44},{"t":2003.05,"v":0.49},{"t":2003.1,"v":0.40},{"t":2003.15,"v":0.32},{"t":2003.2,"v":0.24},{"t":2003.25,"v":0.35},{"t":2003.3,"v":0.38},{"t":2003.4,"v":0.33},{"t":2003.5,"v":0.42},{"t":2003.6,"v":0.38},{"t":2003.7,"v":0.35},{"t":2003.85,"v":0.42},{"t":2003.92,"v":0.36},{"t":2004.0,"v":0.32},{"t":2004.1,"v":0.38},{"t":2004.2,"v":0.42},{"t":2004.28,"v":0.38},{"t":2004.35,"v":0.36},{"t":2004.45,"v":0.41},{"t":2004.5,"v":0.44},{"t":2004.6,"v":0.38},{"t":2004.7,"v":0.34},{"t":2004.8,"v":0.30},{"t":2004.9,"v":0.20},{"t":2004.95,"v":0.30},{"t":2005.0,"v":0.35},{"t":2005.1,"v":0.38},{"t":2005.2,"v":0.42},{"t":2005.3,"v":0.45},{"t":2005.38,"v":0.40},{"t":2005.45,"v":0.35},{"t":2005.55,"v":0.32},{"t":2005.6,"v":0.30},{"t":2005.7,"v":0.28},{"t":2005.75,"v":0.20},{"t":2005.8,"v":0.28},{"t":2005.85,"v":0.35},{"t":2005.92,"v":0.40},{"t":2006.0,"v":0.43},{"t":2006.1,"v":0.35},{"t":2006.18,"v":0.38},{"t":2006.25,"v":0.40},{"t":2006.35,"v":0.42},{"t":2006.45,"v":0.46},{"t":2006.52,"v":0.43},{"t":2006.6,"v":0.40},{"t":2006.7,"v":0.36},{"t":2006.8,"v":0.32},{"t":2006.88,"v":0.30},{"t":2006.95,"v":0.28},{"t":2007.02,"v":0.32},{"t":2007.1,"v":0.35},{"t":2007.2,"v":0.40},{"t":2007.3,"v":0.43},{"t":2007.38,"v":0.45},{"t":2007.45,"v":0.47},{"t":2007.52,"v":0.44},{"t":2007.6,"v":0.48},{"t":2007.68,"v":0.44},{"t":2007.75,"v":0.40},{"t":2007.82,"v":0.44},{"t":2007.9,"v":0.47},{"t":2008.0,"v":0.48},{"t":2008.08,"v":0.44},{"t":2008.15,"v":0.40},{"t":2008.22,"v":0.38},{"t":2008.3,"v":0.35},{"t":2008.38,"v":0.30},{"t":2008.45,"v":0.20},{"t":2008.5,"v":0.09},{"t":2008.55,"v":0.03},{"t":2008.6,"v":0.18},{"t":2008.65,"v":0.15},{"t":2008.7,"v":0.25},{"t":2008.78,"v":0.32},{"t":2008.85,"v":0.38},{"t":2008.95,"v":0.45},{"t":2009.05,"v":0.50},{"t":2009.12,"v":0.47},{"t":2009.2,"v":0.45},{"t":2009.3,"v":0.48},{"t":2009.38,"v":0.52},{"t":2009.45,"v":0.55},{"t":2009.52,"v":0.54},{"t":2009.58,"v":0.50},{"t":2009.65,"v":0.42},{"t":2009.72,"v":0.45},{"t":2009.8,"v":0.44},{"t":2009.9,"v":0.42},{"t":2010.0,"v":0.40},{"t":2010.08,"v":0.43},{"t":2010.15,"v":0.45},{"t":2010.22,"v":0.42},{"t":2010.3,"v":0.40},{"t":2010.38,"v":0.42},{"t":2010.45,"v":0.43},{"t":2010.55,"v":0.50},{"t":2010.62,"v":0.48},{"t":2010.7,"v":0.47},{"t":2010.78,"v":0.46},{"t":2010.85,"v":0.45},{"t":2010.92,"v":0.43},{"t":2011.0,"v":0.42},{"t":2011.08,"v":0.40},{"t":2011.15,"v":0.38},{"t":2011.22,"v":0.35},{"t":2011.3,"v":0.33},{"t":2011.38,"v":0.35},{"t":2011.45,"v":0.37},{"t":2011.55,"v":0.42},{"t":2011.62,"v":0.45},{"t":2011.7,"v":0.48},{"t":2011.78,"v":0.53},{"t":2011.85,"v":0.56},{"t":2011.92,"v":0.55},{"t":2012.0,"v":0.53},{"t":2012.08,"v":0.52},{"t":2012.15,"v":0.50},{"t":2012.22,"v":0.46},{"t":2012.3,"v":0.42},{"t":2012.38,"v":0.44},{"t":2012.45,"v":0.46},{"t":2012.52,"v":0.48},{"t":2012.6,"v":0.50},{"t":2012.68,"v":0.46},{"t":2012.75,"v":0.43},{"t":2012.82,"v":0.45},{"t":2012.9,"v":0.46},{"t":2013.0,"v":0.42},{"t":2013.08,"v":0.44},{"t":2013.15,"v":0.45},{"t":2013.25,"v":0.42},{"t":2013.35,"v":0.40},{"t":2013.42,"v":0.43},{"t":2013.5,"v":0.46},{"t":2013.58,"v":0.46},{"t":2013.65,"v":0.47},{"t":2013.72,"v":0.45},{"t":2013.8,"v":0.43},{"t":2013.9,"v":0.44},{"t":2014.0,"v":0.45},{"t":2014.08,"v":0.43},{"t":2014.15,"v":0.42},{"t":2014.22,"v":0.44},{"t":2014.3,"v":0.45},{"t":2014.38,"v":0.42},{"t":2014.45,"v":0.40},{"t":2014.52,"v":0.39},{"t":2014.6,"v":0.37},{"t":2014.68,"v":0.38},{"t":2014.75,"v":0.40},{"t":2014.82,"v":0.45},{"t":2014.85,"v":0.48},{"t":2014.92,"v":0.49},{"t":2014.96,"v":0.48},{"t":2015.0,"v":0.42}],
"p4k":[{"t":2001.0,"v":0.53},{"t":2001.03,"v":0.50},{"t":2001.05,"v":0.42},{"t":2001.1,"v":0.45},{"t":2001.15,"v":0.44},{"t":2001.2,"v":0.47},{"t":2001.25,"v":0.48},{"t":2001.32,"v":0.46},{"t":2001.4,"v":0.47},{"t":2001.45,"v":0.48},{"t":2001.5,"v":0.45},{"t":2001.55,"v":0.47},{"t":2001.6,"v":0.50},{"t":2001.68,"v":0.51},{"t":2001.75,"v":0.52},{"t":2001.8,"v":0.52},{"t":2001.85,"v":0.50},{"t":2001.9,"v":0.47},{"t":2001.95,"v":0.44},{"t":2002.02,"v":0.47},{"t":2002.1,"v":0.49},{"t":2002.15,"v":0.47},{"t":2002.2,"v":0.44},{"t":2002.28,"v":0.46},{"t":2002.35,"v":0.48},{"t":2002.42,"v":0.47},{"t":2002.5,"v":0.50},{"t":2002.55,"v":0.48},{"t":2002.6,"v":0.46},{"t":2002.65,"v":0.50},{"t":2002.7,"v":0.52},{"t":2002.75,"v":0.54},{"t":2002.8,"v":0.56},{"t":2002.88,"v":0.53},{"t":2002.95,"v":0.50},{"t":2003.02,"v":0.51},{"t":2003.1,"v":0.52},{"t":2003.15,"v":0.49},{"t":2003.2,"v":0.47},{"t":2003.28,"v":0.49},{"t":2003.35,"v":0.50},{"t":2003.42,"v":0.47},{"t":2003.5,"v":0.44},{"t":2003.58,"v":0.46},{"t":2003.65,"v":0.48},{"t":2003.72,"v":0.47},{"t":2003.8,"v":0.46},{"t":2003.88,"v":0.48},{"t":2004.0,"v":0.48},{"t":2004.08,"v":0.47},{"t":2004.15,"v":0.46},{"t":2004.22,"v":0.47},{"t":2004.3,"v":0.47},{"t":2004.35,"v":0.50},{"t":2004.4,"v":0.52},{"t":2004.48,"v":0.56},{"t":2004.55,"v":0.58},{"t":2004.62,"v":0.59},{"t":2004.7,"v":0.60},{"t":2004.78,"v":0.58},{"t":2004.85,"v":0.57},{"t":2004.92,"v":0.59},{"t":2005.0,"v":0.60},{"t":2005.08,"v":0.57},{"t":2005.15,"v":0.55},{"t":2005.22,"v":0.56},{"t":2005.3,"v":0.58},{"t":2005.38,"v":0.60},{"t":2005.45,"v":0.63},{"t":2005.5,"v":0.59},{"t":2005.55,"v":0.56},{"t":2005.62,"v":0.54},{"t":2005.7,"v":0.53},{"t":2005.78,"v":0.55},{"t":2005.85,"v":0.56},{"t":2005.92,"v":0.59},{"t":2006.0,"v":0.61},{"t":2006.08,"v":0.58},{"t":2006.15,"v":0.55},{"t":2006.22,"v":0.53},{"t":2006.3,"v":0.52},{"t":2006.38,"v":0.54},{"t":2006.45,"v":0.56},{"t":2006.52,"v":0.58},{"t":2006.6,"v":0.60},{"t":2006.68,"v":0.58},{"t":2006.75,"v":0.56},{"t":2006.8,"v":0.59},{"t":2006.85,"v":0.62},{"t":2006.92,"v":0.59},{"t":2007.0,"v":0.57},{"t":2007.08,"v":0.54},{"t":2007.15,"v":0.52},{"t":2007.22,"v":0.51},{"t":2007.3,"v":0.50},{"t":2007.38,"v":0.53},{"t":2007.45,"v":0.57},{"t":2007.52,"v":0.56},{"t":2007.6,"v":0.55},{"t":2007.68,"v":0.56},{"t":2007.75,"v":0.58},{"t":2007.82,"v":0.54},{"t":2007.9,"v":0.50},{"t":2007.98,"v":0.53},{"t":2008.05,"v":0.56},{"t":2008.12,"v":0.56},{"t":2008.2,"v":0.55},{"t":2008.28,"v":0.58},{"t":2008.35,"v":0.60},{"t":2008.42,"v":0.56},{"t":2008.5,"v":0.53},{"t":2008.55,"v":0.55},{"t":2008.6,"v":0.56},{"t":2008.65,"v":0.57},{"t":2008.7,"v":0.58},{"t":2008.78,"v":0.56},{"t":2008.85,"v":0.54},{"t":2008.92,"v":0.58},{"t":2009.0,"v":0.62},{"t":2009.08,"v":0.63},{"t":2009.15,"v":0.64},{"t":2009.22,"v":0.63},{"t":2009.3,"v":0.62},{"t":2009.38,"v":0.64},{"t":2009.45,"v":0.65},{"t":2009.5,"v":0.66},{"t":2009.55,"v":0.64},{"t":2009.6,"v":0.62},{"t":2009.68,"v":0.61},{"t":2009.75,"v":0.60},{"t":2009.8,"v":0.58},{"t":2009.85,"v":0.57},{"t":2009.92,"v":0.58},{"t":2010.0,"v":0.59},{"t":2010.08,"v":0.56},{"t":2010.15,"v":0.54},{"t":2010.2,"v":0.53},{"t":2010.28,"v":0.54},{"t":2010.35,"v":0.55},{"t":2010.4,"v":0.52},{"t":2010.45,"v":0.50},{"t":2010.52,"v":0.53},{"t":2010.6,"v":0.56},{"t":2010.68,"v":0.55},{"t":2010.75,"v":0.54},{"t":2010.82,"v":0.55},{"t":2010.9,"v":0.55},{"t":2010.95,"v":0.52},{"t":2011.0,"v":0.49},{"t":2011.05,"v":0.51},{"t":2011.1,"v":0.52},{"t":2011.18,"v":0.50},{"t":2011.25,"v":0.48},{"t":2011.32,"v":0.51},{"t":2011.4,"v":0.55},{"t":2011.48,"v":0.59},{"t":2011.55,"v":0.62},{"t":2011.62,"v":0.60},{"t":2011.7,"v":0.58},{"t":2011.78,"v":0.61},{"t":2011.85,"v":0.64},{"t":2011.92,"v":0.63},{"t":2012.0,"v":0.62},{"t":2012.08,"v":0.60},{"t":2012.15,"v":0.58},{"t":2012.22,"v":0.56},{"t":2012.3,"v":0.55},{"t":2012.38,"v":0.52},{"t":2012.45,"v":0.50},{"t":2012.52,"v":0.52},{"t":2012.6,"v":0.53},{"t":2012.68,"v":0.56},{"t":2012.75,"v":0.58},{"t":2012.82,"v":0.59},{"t":2012.9,"v":0.60},{"t":2012.98,"v":0.58},{"t":2013.05,"v":0.56},{"t":2013.12,"v":0.53},{"t":2013.2,"v":0.50},{"t":2013.28,"v":0.53},{"t":2013.35,"v":0.55},{"t":2013.42,"v":0.53},{"t":2013.5,"v":0.51},{"t":2013.55,"v":0.53},{"t":2013.6,"v":0.55},{"t":2013.68,"v":0.53},{"t":2013.75,"v":0.51},{"t":2013.82,"v":0.49},{"t":2013.9,"v":0.47},{"t":2013.98,"v":0.49},{"t":2014.05,"v":0.50},{"t":2014.12,"v":0.48},{"t":2014.2,"v":0.47},{"t":2014.28,"v":0.49},{"t":2014.35,"v":0.51},{"t":2014.42,"v":0.48},{"t":2014.5,"v":0.45},{"t":2014.55,"v":0.47},{"t":2014.6,"v":0.48},{"t":2014.68,"v":0.49},{"t":2014.75,"v":0.50},{"t":2014.8,"v":0.53},{"t":2014.85,"v":0.56},{"t":2014.9,"v":0.59},{"t":2014.95,"v":0.60},{"t":2015.0,"v":0.55}],
"p4g":[{"t":2001.0,"v":0.33},{"t":2001.05,"v":0.23},{"t":2001.1,"v":0.27},{"t":2001.15,"v":0.30},{"t":2001.2,"v":0.22},{"t":2001.25,"v":0.18},{"t":2001.3,"v":0.24},{"t":2001.35,"v":0.28},{"t":2001.4,"v":0.20},{"t":2001.45,"v":0.15},{"t":2001.5,"v":0.22},{"t":2001.55,"v":0.27},{"t":2001.6,"v":0.21},{"t":2001.65,"v":0.17},{"t":2001.72,"v":0.25},{"t":2001.8,"v":0.30},{"t":2001.85,"v":0.27},{"t":2001.9,"v":0.25},{"t":2001.95,"v":0.30},{"t":2002.0,"v":0.33},{"t":2002.05,"v":0.28},{"t":2002.1,"v":0.22},{"t":2002.15,"v":0.27},{"t":2002.2,"v":0.32},{"t":2002.25,"v":0.24},{"t":2002.3,"v":0.16},{"t":2002.35,"v":0.26},{"t":2002.4,"v":0.33},{"t":2002.45,"v":0.30},{"t":2002.5,"v":0.28},{"t":2002.55,"v":0.32},{"t":2002.6,"v":0.35},{"t":2002.65,"v":0.32},{"t":2002.7,"v":0.30},{"t":2002.75,"v":0.40},{"t":2002.8,"v":0.45},{"t":2002.85,"v":0.42},{"t":2002.9,"v":0.38},{"t":2002.95,"v":0.41},{"t":2003.0,"v":0.40},{"t":2003.05,"v":0.35},{"t":2003.1,"v":0.30},{"t":2003.15,"v":0.25},{"t":2003.2,"v":0.09},{"t":2003.25,"v":0.20},{"t":2003.3,"v":0.25},{"t":2003.35,"v":0.28},{"t":2003.4,"v":0.22},{"t":2003.45,"v":0.18},{"t":2003.5,"v":0.25},{"t":2003.55,"v":0.30},{"t":2003.6,"v":0.27},{"t":2003.7,"v":0.25},{"t":2003.75,"v":0.29},{"t":2003.8,"v":0.33},{"t":2003.88,"v":0.30},{"t":2003.95,"v":0.27},{"t":2004.02,"v":0.30},{"t":2004.1,"v":0.32},{"t":2004.15,"v":0.28},{"t":2004.2,"v":0.25},{"t":2004.28,"v":0.30},{"t":2004.35,"v":0.33},{"t":2004.42,"v":0.36},{"t":2004.5,"v":0.40},{"t":2004.55,"v":0.37},{"t":2004.6,"v":0.35},{"t":2004.65,"v":0.31},{"t":2004.7,"v":0.28},{"t":2004.75,"v":0.31},{"t":2004.8,"v":0.35},{"t":2004.85,"v":0.28},{"t":2004.9,"v":0.20},{"t":2004.95,"v":0.15},{"t":2005.0,"v":0.10},{"t":2005.05,"v":0.20},{"t":2005.1,"v":0.30},{"t":2005.15,"v":0.28},{"t":2005.2,"v":0.28},{"t":2005.28,"v":0.32},{"t":2005.35,"v":0.35},{"t":2005.45,"v":0.39},{"t":2005.5,"v":0.34},{"t":2005.55,"v":0.30},{"t":2005.62,"v":0.26},{"t":2005.7,"v":0.22},{"t":2005.78,"v":0.18},{"t":2005.85,"v":0.15},{"t":2005.9,"v":0.20},{"t":2005.95,"v":0.25},{"t":2006.0,"v":0.08},{"t":2006.05,"v":0.18},{"t":2006.1,"v":0.25},{"t":2006.15,"v":0.28},{"t":2006.2,"v":0.30},{"t":2006.28,"v":0.29},{"t":2006.35,"v":0.27},{"t":2006.42,"v":0.30},{"t":2006.5,"v":0.32},{"t":2006.55,"v":0.28},{"t":2006.6,"v":0.25},{"t":2006.65,"v":0.31},{"t":2006.7,"v":0.38},{"t":2006.78,"v":0.42},{"t":2006.85,"v":0.45},{"t":2006.9,"v":0.43},{"t":2006.95,"v":0.40},{"t":2007.0,"v":0.35},{"t":2007.05,"v":0.30},{"t":2007.1,"v":0.22},{"t":2007.15,"v":0.15},{"t":2007.2,"v":0.20},{"t":2007.3,"v":0.25},{"t":2007.38,"v":0.23},{"t":2007.45,"v":0.20},{"t":2007.52,"v":0.25},{"t":2007.6,"v":0.30},{"t":2007.68,"v":0.37},{"t":2007.75,"v":0.43},{"t":2007.8,"v":0.40},{"t":2007.85,"v":0.35},{"t":2007.9,"v":0.38},{"t":2007.95,"v":0.40},{"t":2008.02,"v":0.36},{"t":2008.1,"v":0.33},{"t":2008.15,"v":0.30},{"t":2008.2,"v":0.28},{"t":2008.25,"v":0.30},{"t":2008.3,"v":0.30},{"t":2008.35,"v":0.27},{"t":2008.4,"v":0.25},{"t":2008.45,"v":0.32},{"t":2008.5,"v":0.15},{"t":2008.55,"v":0.10},{"t":2008.6,"v":0.05},{"t":2008.65,"v":0.00},{"t":2008.7,"v":0.08},{"t":2008.75,"v":0.15},{"t":2008.8,"v":0.25},{"t":2008.85,"v":0.32},{"t":2008.9,"v":0.38},{"t":2008.95,"v":0.40},{"t":2009.0,"v":0.42},{"t":2009.05,"v":0.45},{"t":2009.1,"v":0.48},{"t":2009.15,"v":0.50},{"t":2009.2,"v":0.52},{"t":2009.28,"v":0.51},{"t":2009.35,"v":0.50},{"t":2009.42,"v":0.53},{"t":2009.5,"v":0.56},{"t":2009.55,"v":0.53},{"t":2009.6,"v":0.50},{"t":2009.68,"v":0.47},{"t":2009.75,"v":0.45},{"t":2009.82,"v":0.47},{"t":2009.9,"v":0.48},{"t":2009.98,"v":0.46},{"t":2010.05,"v":0.44},{"t":2010.12,"v":0.45},{"t":2010.2,"v":0.46},{"t":2010.28,"v":0.42},{"t":2010.35,"v":0.33},{"t":2010.4,"v":0.40},{"t":2010.45,"v":0.45},{"t":2010.52,"v":0.47},{"t":2010.6,"v":0.48},{"t":2010.68,"v":0.46},{"t":2010.75,"v":0.44},{"t":2010.82,"v":0.42},{"t":2010.9,"v":0.40},{"t":2010.95,"v":0.35},{"t":2011.0,"v":0.30},{"t":2011.05,"v":0.24},{"t":2011.1,"v":0.18},{"t":2011.15,"v":0.22},{"t":2011.2,"v":0.25},{"t":2011.25,"v":0.30},{"t":2011.3,"v":0.33},{"t":2011.38,"v":0.36},{"t":2011.45,"v":0.38},{"t":2011.52,"v":0.42},{"t":2011.6,"v":0.45},{"t":2011.68,"v":0.48},{"t":2011.75,"v":0.50},{"t":2011.82,"v":0.52},{"t":2011.9,"v":0.53},{"t":2011.95,"v":0.50},{"t":2012.0,"v":0.46},{"t":2012.05,"v":0.44},{"t":2012.1,"v":0.42},{"t":2012.15,"v":0.38},{"t":2012.2,"v":0.35},{"t":2012.28,"v":0.30},{"t":2012.35,"v":0.27},{"t":2012.42,"v":0.35},{"t":2012.5,"v":0.40},{"t":2012.58,"v":0.43},{"t":2012.65,"v":0.46},{"t":2012.72,"v":0.48},{"t":2012.8,"v":0.50},{"t":2012.88,"v":0.49},{"t":2012.95,"v":0.48},{"t":2013.02,"v":0.46},{"t":2013.1,"v":0.44},{"t":2013.15,"v":0.40},{"t":2013.2,"v":0.38},{"t":2013.25,"v":0.33},{"t":2013.3,"v":0.30},{"t":2013.38,"v":0.36},{"t":2013.45,"v":0.42},{"t":2013.52,"v":0.39},{"t":2013.6,"v":0.36},{"t":2013.68,"v":0.38},{"t":2013.75,"v":0.40},{"t":2013.8,"v":0.35},{"t":2013.85,"v":0.30},{"t":2013.92,"v":0.34},{"t":2014.0,"v":0.38},{"t":2014.08,"v":0.35},{"t":2014.15,"v":0.32},{"t":2014.22,"v":0.29},{"t":2014.3,"v":0.27},{"t":2014.35,"v":0.25},{"t":2014.4,"v":0.24},{"t":2014.45,"v":0.27},{"t":2014.5,"v":0.30},{"t":2014.55,"v":0.26},{"t":2014.6,"v":0.22},{"t":2014.65,"v":0.26},{"t":2014.7,"v":0.30},{"t":2014.75,"v":0.35},{"t":2014.8,"v":0.40},{"t":2014.85,"v":0.42},{"t":2014.9,"v":0.43},{"t":2014.95,"v":0.38},{"t":2015.0,"v":0.28}]
},
"columns":2,
"spacing":{"row":103,"column":150},
"bounds":"flush",
"resolve":{"scale":{"color":"independent"}},
"concat":[
 {"width":455,"height":261,"title":"Within (Financials)",
  "resolve":{"axis":{"x":"independent","y":"independent"}},
  "layer":[
   {"data":{"name":"p1g"},"mark":{"type":"line","strokeWidth":1.1},
    "encoding":{
     "x":{"field":"t","type":"quantitative","scale":{"domain":[2001,2015],"nice":false,"zero":false},"axis":{"values":[2001,2003,2005,2007,2009,2011,2013,2015],"format":"d","title":null}},
     "y":{"field":"v","type":"quantitative","scale":{"domain":[0,0.75],"nice":false},"axis":{"values":[0,0.2,0.4,0.6],"format":".1~f","title":null}},
     "color":{"datum":"1F-Eq","type":"nominal","scale":{"domain":["1F-Eq","MF-LT"],"range":["#c8c8c8","#1e1e1e"]},"legend":{"orient":"bottom-right","offset":18,"title":null}}}},
   {"data":{"name":"p1k"},"mark":{"type":"line","strokeWidth":1.9},
    "encoding":{"x":{"field":"t","type":"quantitative","axis":{"orient":"top","labels":false,"values":[2001,2003,2005,2007,2009,2011,2013,2015],"title":null}},"y":{"field":"v","type":"quantitative","axis":{"orient":"right","labels":false,"values":[0,0.2,0.4,0.6],"title":null}},"color":{"datum":"MF-LT","type":"nominal"}}}
  ]},
 {"width":455,"height":261,"title":"Between (Financials/Energy)",
  "resolve":{"axis":{"x":"independent","y":"independent"}},
  "layer":[
   {"data":{"name":"p2g"},"mark":{"type":"line","strokeWidth":1.1},
    "encoding":{
     "x":{"field":"t","type":"quantitative","scale":{"domain":[2001,2015],"nice":false,"zero":false},"axis":{"values":[2001,2003,2005,2007,2009,2011,2013,2015],"format":"d","title":null}},
     "y":{"field":"v","type":"quantitative","scale":{"domain":[0,0.75],"nice":false},"axis":{"values":[0,0.2,0.4,0.6],"format":".1~f","title":null}},
     "color":{"datum":"MF","type":"nominal","scale":{"domain":["MF","MF-LT"],"range":["#c8c8c8","#1e1e1e"]},"legend":{"orient":"top-right","offset":12,"title":null}}}},
   {"data":{"name":"fek"},"mark":{"type":"line","strokeWidth":1.9},
    "encoding":{"x":{"field":"t","type":"quantitative","axis":{"orient":"top","labels":false,"values":[2001,2003,2005,2007,2009,2011,2013,2015],"title":null}},"y":{"field":"v","type":"quantitative","axis":{"orient":"right","labels":false,"values":[0,0.2,0.4,0.6],"title":null}},"color":{"datum":"MF-LT","type":"nominal"}}}
  ]},
 {"width":455,"height":260,"title":"Between (Financials/Energy)",
  "resolve":{"axis":{"x":"independent","y":"independent"}},
  "layer":[
   {"data":{"name":"p3g"},"mark":{"type":"line","strokeWidth":1.2},
    "encoding":{
     "x":{"field":"t","type":"quantitative","scale":{"domain":[2001,2015],"nice":false,"zero":false},"axis":{"values":[2001,2003,2005,2007,2009,2011,2013,2015],"format":"d","title":null}},
     "y":{"field":"v","type":"quantitative","scale":{"domain":[0,0.75],"nice":false},"axis":{"values":[0,0.2,0.4,0.6],"format":".1~f","title":null}},
     "color":{"datum":"1F-Gr","type":"nominal","scale":{"domain":["1F-Gr","MF-LT"],"range":["#c8c8c8","#1e1e1e"]},"legend":{"orient":"bottom-right","offset":16,"title":null}}}},
   {"data":{"name":"fek"},"mark":{"type":"line","strokeWidth":1.9},
    "encoding":{"x":{"field":"t","type":"quantitative","axis":{"orient":"top","labels":false,"values":[2001,2003,2005,2007,2009,2011,2013,2015],"title":null}},"y":{"field":"v","type":"quantitative","axis":{"orient":"right","labels":false,"values":[0,0.2,0.4,0.6],"title":null}},"color":{"datum":"MF-LT","type":"nominal"}}}
  ]},
 {"width":455,"height":260,"title":"Within (Energy)",
  "resolve":{"axis":{"x":"independent","y":"independent"}},
  "layer":[
   {"data":{"name":"p4g"},"mark":{"type":"line","strokeWidth":1.2},
    "encoding":{
     "x":{"field":"t","type":"quantitative","scale":{"domain":[2001,2015],"nice":false,"zero":false},"axis":{"values":[2001,2003,2005,2007,2009,2011,2013,2015],"format":"d","title":null}},
     "y":{"field":"v","type":"quantitative","scale":{"domain":[0,0.75],"nice":false},"axis":{"values":[0,0.2,0.4,0.6],"format":".1~f","title":null}},
     "color":{"datum":"1F-Gr","type":"nominal","scale":{"domain":["1F-Gr","MF-LT"],"range":["#c8c8c8","#1e1e1e"]},"legend":{"orient":"bottom-right","offset":12,"title":null}}}},
   {"data":{"name":"p4k"},"mark":{"type":"line","strokeWidth":1.9},
    "encoding":{"x":{"field":"t","type":"quantitative","axis":{"orient":"top","labels":false,"values":[2001,2003,2005,2007,2009,2011,2013,2015],"title":null}},"y":{"field":"v","type":"quantitative","axis":{"orient":"right","labels":false,"values":[0,0.2,0.4,0.6],"title":null}},"color":{"datum":"MF-LT","type":"nominal"}}}
  ]}
]
}
